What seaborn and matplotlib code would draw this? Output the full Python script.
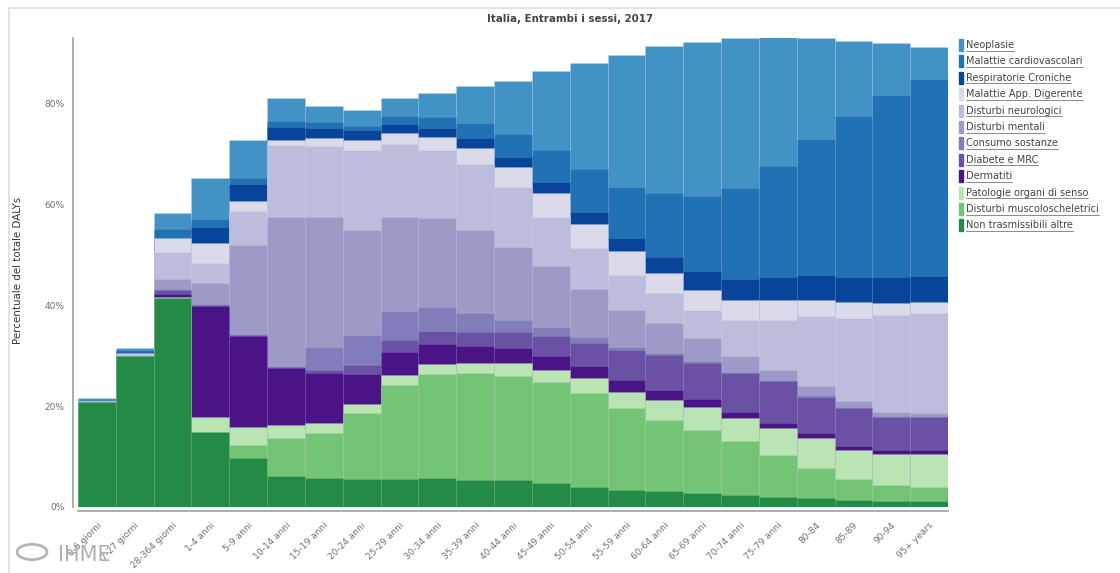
import numpy as np
import pandas as pd
import matplotlib
matplotlib.use("Agg")
import matplotlib.pyplot as plt
import seaborn as sns
from matplotlib.lines import Line2D
from matplotlib.patches import Rectangle, Circle

# ---------------- data ----------------
ages = ["0-6 giorni", "7-27 giorni", "28-364 giorni", "1-4 anni", "5-9 anni",
        "10-14 anni", "15-19 anni", "20-24 anni", "25-29 anni", "30-34 anni",
        "35-39 anni", "40-44 anni", "45-49 anni", "50-54 anni", "55-59 anni",
        "60-64 anni", "65-69 anni", "70-74 anni", "75-79 anni", "80-84",
        "85-89", "90-94", "95+ years"]

# stacked bottom -> top (percent of total DALYs)
non_trasmissibili = [20.9, 30.0, 41.5, 14.9, 9.8, 6.2, 5.7, 5.5, 5.5, 5.7, 5.4, 5.4, 4.7, 4.0, 3.4, 3.2, 2.8, 2.4, 2.0, 1.7, 1.3, 1.1, 1.1]
muscoloscheletrici = [0.0, 0.0, 0.0, 0.0, 2.5, 7.4, 9.0, 13.1, 18.7, 20.7, 21.1, 20.6, 20.0, 18.6, 16.2, 14.1, 12.5, 10.6, 8.3, 6.0, 4.2, 3.3, 2.9]
organi_senso = [0.0, 0.0, 0.1, 3.0, 3.6, 2.7, 1.9, 1.8, 2.0, 1.9, 2.0, 2.5, 2.5, 2.9, 3.3, 3.9, 4.6, 4.6, 5.3, 5.9, 5.8, 6.1, 6.5]
dermatiti = [0.0, 0.0, 0.6, 22.0, 18.0, 11.2, 10.0, 6.0, 4.6, 4.0, 3.4, 3.0, 2.8, 2.5, 2.2, 2.0, 1.5, 1.3, 1.1, 1.0, 0.8, 0.8, 0.8]
diabete_mrc = [0.0, 0.0, 0.8, 0.2, 0.2, 0.2, 0.6, 1.8, 2.3, 2.6, 2.9, 3.3, 3.9, 4.6, 6.1, 7.0, 7.1, 7.6, 8.2, 7.3, 7.5, 6.6, 6.5]
consumo_sostanze = [0.0, 0.0, 0.2, 0.2, 0.2, 0.3, 4.6, 5.9, 5.7, 4.7, 3.6, 2.3, 1.8, 1.1, 0.6, 0.4, 0.4, 0.3, 0.3, 0.3, 0.2, 0.2, 0.2]
disturbi_mentali = [0.0, 0.0, 2.0, 4.1, 17.7, 29.6, 25.8, 20.9, 18.8, 17.7, 16.6, 14.5, 12.0, 9.5, 7.3, 5.8, 4.6, 3.2, 2.0, 1.7, 1.3, 0.8, 0.7]
disturbi_neurologici = [0.1, 0.4, 5.3, 3.9, 6.6, 14.2, 14.0, 15.7, 14.4, 13.4, 13.1, 11.9, 9.9, 8.1, 6.9, 6.0, 5.5, 7.1, 9.9, 13.9, 16.3, 19.2, 19.7]
app_digerente = [0.0, 0.2, 2.8, 4.0, 2.0, 0.9, 1.5, 2.0, 2.1, 2.7, 3.1, 4.0, 4.6, 4.9, 4.7, 4.0, 4.1, 4.0, 4.0, 3.3, 3.3, 2.3, 2.3]
respiratorie = [0.0, 0.1, 0.1, 3.2, 3.5, 2.6, 2.0, 2.0, 1.9, 1.7, 2.0, 1.9, 2.2, 2.2, 2.6, 3.1, 3.6, 4.1, 4.5, 4.9, 5.0, 5.3, 5.1]
cardiovascolari = [0.2, 0.4, 1.8, 1.6, 1.2, 1.3, 1.3, 0.9, 1.6, 2.2, 2.9, 4.6, 6.4, 8.6, 10.2, 12.7, 14.9, 18.0, 22.1, 27.0, 31.9, 36.0, 39.1]
neoplasie = [0.4, 0.5, 3.1, 8.2, 7.5, 4.6, 3.2, 3.2, 3.5, 4.8, 7.3, 10.5, 15.6, 21.0, 26.2, 29.3, 30.7, 29.8, 25.5, 20.0, 14.9, 10.4, 6.4]

cat_names = ["Non trasmissibili altre", "Disturbi muscoloscheletrici",
             "Patologie organi di senso", "Dermatiti", "Diabete e MRC",
             "Consumo sostanze", "Disturbi mentali", "Disturbi neurologici",
             "Malattie App. Digerente", "Respiratorie Croniche",
             "Malattie cardiovascolari", "Neoplasie"]
cat_values = [non_trasmissibili, muscoloscheletrici, organi_senso, dermatiti,
              diabete_mrc, consumo_sostanze, disturbi_mentali,
              disturbi_neurologici, app_digerente, respiratorie,
              cardiovascolari, neoplasie]
cat_colors = ["#238b45", "#74c476", "#bae4b3", "#4a1486", "#6a51a3",
              "#807dba", "#9e9ac8", "#bcbddc", "#dadaeb", "#08449a",
              "#2171b5", "#4292c6"]

title = "Italia, Entrambi i sessi, 2017"
ylabel = "Percentuale del totale DALYs"

# ---------------- plot ----------------
sns.set_theme(style="white")
plt.rcParams['font.family'] = ['DejaVu Sans']

W, H = 1120, 573
fig = plt.figure(figsize=(W / 100, H / 100), dpi=100)
ax = fig.add_axes([78 / W, 1 - 507 / H, 870 / W, (507 - 38) / H])

df = pd.DataFrame({"age": ages})
for n, v in zip(cat_names, cat_values):
    df[n] = v
cum = df[cat_names].cumsum(axis=1)
cum["age"] = ages

for n, c in zip(reversed(cat_names), reversed(cat_colors)):
    sns.barplot(data=cum, x="age", y=n, order=ages, color=c, saturation=1,
                width=1.0, linewidth=0.5, edgecolor=(1, 1, 1, 0.12),
                errorbar=None, ax=ax)

ax.set_xlim(-0.5, len(ages) - 0.5)
ax.set_ylim(0, 93)
ax.set_xlabel("")
ax.set_ylabel("")

axis_col = "#a8a8a8"
for s in ["top", "right"]:
    ax.spines[s].set_visible(False)
ax.spines["left"].set_position(("outward", 3.6))
ax.spines["bottom"].set_position(("outward", 2.9))
for s in ["left", "bottom"]:
    ax.spines[s].set_color(axis_col)
    ax.spines[s].set_linewidth(1.3)

ax.set_yticks([0, 20, 40, 60, 80])
ax.set_yticklabels(["0%", "20%", "40%", "60%", "80%"])
ax.set_yticks([93], minor=True)
ax.set_xticks(range(len(ages)))
ax.set_xticklabels(ages, rotation=45, ha="right", rotation_mode="anchor")
ax.set_xticks([-0.5, len(ages) - 0.5], minor=True)
ax.tick_params(axis="both", which="both", direction="out", length=4,
               width=1.1, color=axis_col, labelsize=6.5, labelcolor="#707070",
               pad=2)
ax.tick_params(axis="x", which="major", pad=3)
ax.tick_params(axis="both", which="minor", length=4)
ax.grid(False)

fig.text(570 / W, 1 - 19 / H, title, ha="center", va="center", fontsize=7.4,
         fontweight="bold", color="#444444")
fig.text(18 / W, 1 - 270 / H, ylabel, ha="center", va="center", rotation=90,
         fontsize=7.4, color="#333333")

# legend (top -> bottom)
leg_rows = list(zip(reversed(cat_names), reversed(cat_colors)))
texts = []
for i, (n, c) in enumerate(leg_rows):
    yc = 45 + i * 16.4
    fig.patches.append(Rectangle((959 / W, 1 - (yc + 6) / H), 3.5 / W, 12 / H,
                                 transform=fig.transFigure, color=c))
    t = fig.text(966 / W, 1 - yc / H, n, ha="left", va="center", fontsize=7.0,
                 color="#444444")
    texts.append(t)

fig.canvas.draw()
renderer = fig.canvas.get_renderer()
for t in texts:
    bb = t.get_window_extent(renderer)
    yline = bb.y0 - 0.5
    fig.lines.append(Line2D([bb.x0 / W, bb.x1 / W], [yline / H, yline / H],
                            transform=fig.transFigure, color="#777777",
                            linewidth=0.6))

# page frame
fig.lines.append(Line2D([9 / W, 1], [1 - 8 / H, 1 - 8 / H],
                        transform=fig.transFigure, color="#dddddd", linewidth=1.2))
fig.lines.append(Line2D([9 / W, 9 / W], [0, 1 - 8 / H],
                        transform=fig.transFigure, color="#dddddd", linewidth=1.2))

# IHME mark
fig.patches.append(Circle((32 / W, 1 - 552 / H), 15 / W, transform=fig.transFigure,
                          fill=False, edgecolor="#b5b5b5", linewidth=2))
fig.text(58 / W, 1 - 555 / H, "IHME", ha="left", va="center", fontsize=15,
         color="#b0b0b0")

fig.savefig("out.png", dpi=100)
